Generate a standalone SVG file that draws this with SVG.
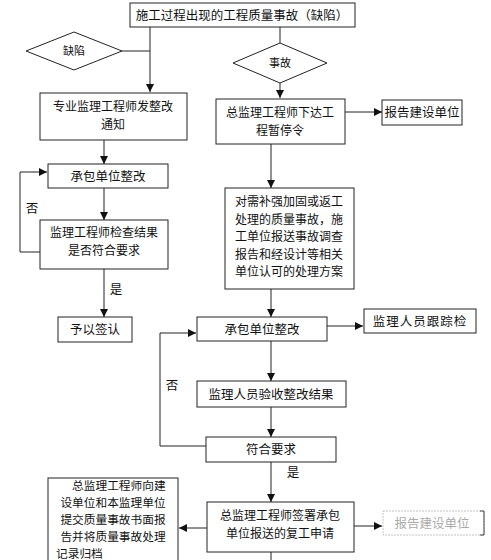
<svg xmlns="http://www.w3.org/2000/svg" width="491" height="560" viewBox="0 0 491 560">
<style>
.box{fill:#fff;stroke:#222;stroke-width:1}
.t{font-family:"Noto Sans CJK SC","Liberation Sans",sans-serif;font-size:12.5px;fill:#111;text-anchor:middle}
.m{font-size:12px}
.s{font-size:11px}
.c{fill:none;stroke:#222;stroke-width:1}
.g{fill:none;stroke:#c4c4c4;stroke-width:1}
</style>
<defs>
<marker id="ah" viewBox="0 0 8 8" refX="8" refY="4" markerWidth="8" markerHeight="8" markerUnits="userSpaceOnUse" orient="auto">
<path d="M0,0 L8,4 L0,8 z" fill="#111"/>
</marker>
</defs>
<rect width="491" height="560" fill="#fff"/>
<g id="connectors">
<path class="c" d="M150,27 V92" marker-end="url(#ah)"/>
<path class="c" d="M122,51 H150"/>
<path class="c" d="M280,27 V43"/>
<path class="c" d="M280,83 V98" marker-end="url(#ah)"/>
<path class="c" d="M345,112 H382" marker-end="url(#ah)"/>
<path class="c" d="M104,140 V164" marker-end="url(#ah)"/>
<path class="c" d="M104,188 V220" marker-end="url(#ah)"/>
<path class="c" d="M40,252 H20 V172 H47" marker-end="url(#ah)"/>
<path class="c" d="M104,269 V317" marker-end="url(#ah)"/>
<path class="c" d="M271,144 V188" marker-end="url(#ah)"/>
<path class="c" d="M271,289 V317" marker-end="url(#ah)"/>
<path class="c" d="M327,326 H363" marker-end="url(#ah)"/>
<path class="c" d="M271,341 V381" marker-end="url(#ah)"/>
<path class="c" d="M271,407 V437" marker-end="url(#ah)"/>
<path class="c" d="M206,446 H160 V333 H196" marker-end="url(#ah)"/>
<path class="c" d="M271,462 V502" marker-end="url(#ah)"/>
<path class="c" d="M354,526 H382" marker-end="url(#ah)"/>
<path class="c" d="M207,528 H179" marker-end="url(#ah)"/>
<path class="c" d="M271,552 V560"/>
<text class="t" x="32" y="213">否</text>
<text class="t" x="116" y="294">是</text>
<text class="t" x="172" y="390">否</text>
<text class="t" x="293" y="477">是</text>
</g>
<g id="n_top"><rect class="box" x="130" y="3" width="225" height="24"/><text class="t" x="242" y="20">施工过程出现的工程质量事故（缺陷）</text></g>
<g id="n_d1"><path class="box" d="M26,51 L74,32 L122,51 L74,70 z"/><text class="t s" x="74" y="55">缺陷</text></g>
<g id="n_d2"><path class="box" d="M233,63 L280,43 L327,63 L280,83 z"/><text class="t s" x="280" y="67">事故</text></g>
<g id="n_l1"><rect class="box" x="40" y="93" width="147" height="47"/><text class="t m" x="113" y="111">专业监理工程师发整改</text><text class="t m" x="113" y="128.5">通知</text></g>
<g id="n_r1"><rect class="box" x="216" y="99" width="129" height="45"/><text class="t m" x="280" y="117">总监理工程师下达工</text><text class="t m" x="280" y="134.5">程暂停令</text></g>
<g id="n_r1b"><rect class="box" x="382" y="100" width="80" height="25"/><text class="t" x="422" y="117">报告建设单位</text></g>
<g id="n_l2"><rect class="box" x="48" y="164" width="120" height="24"/><text class="t" x="108" y="181">承包单位整改</text></g>
<g id="n_l3"><rect class="box" x="40" y="220" width="128" height="49"/><text class="t m" x="104" y="237">监理工程师检查结果</text><text class="t m" x="104" y="254.5">是否符合要求</text></g>
<g id="n_l4"><rect class="box" x="58" y="317" width="74" height="25"/><text class="t" x="95" y="334">予以签认</text></g>
<g id="n_r2"><rect class="box" x="225" y="188" width="129" height="101"/>
<text class="t m" x="289" y="206">对需补强加固或返工</text>
<text class="t m" x="289" y="223.5">处理的质量事故，施</text>
<text class="t m" x="289" y="241">工单位报送事故调查</text>
<text class="t m" x="289" y="258.5">报告和经设计等相关</text>
<text class="t m" x="289" y="276">单位认可的处理方案</text></g>
<g id="n_r3"><rect class="box" x="197" y="317" width="130" height="24"/><text class="t" x="262" y="334">承包单位整改</text></g>
<g id="n_r3b"><rect class="box" x="364" y="309" width="112" height="24"/><text class="t" x="420" y="326" style="letter-spacing:1px">监理人员跟踪检</text></g>
<g id="n_r4"><rect class="box" x="197" y="381" width="149" height="26"/><text class="t" x="271" y="399">监理人员验收整改结果</text></g>
<g id="n_r5"><rect class="box" x="206" y="437" width="130" height="25"/><text class="t" x="271" y="454">符合要求</text></g>
<g id="n_r6"><rect class="box" x="207" y="502" width="147" height="50"/><text class="t m" x="280" y="520">总监理工程师签署承包</text><text class="t m" x="280" y="537.5">单位报送的复工申请</text></g>
<g id="n_r6b"><rect class="g" x="383" y="511" width="101" height="24" stroke-dasharray="2,1"/><path d="M480,511 H484 V535 H480" fill="none" stroke="#444"/><text class="t" x="432" y="528" style="fill:#aaa">报告建设单位</text></g>
<g id="n_l5"><rect class="box" x="48" y="478" width="130" height="90"/>
<text class="t" style="font-size:11.7px" x="113" y="490">　总监理工程师向建</text>
<text class="t" style="font-size:11.7px" x="113" y="507">设单位和本监理单位</text>
<text class="t" style="font-size:11.7px" x="113" y="524">提交质量事故书面报</text>
<text class="t" style="font-size:11.7px" x="113" y="541">告并将质量事故处理</text>
<text class="t" style="font-size:11.7px;text-anchor:start" x="56" y="558">记录归档</text></g>
</svg>
